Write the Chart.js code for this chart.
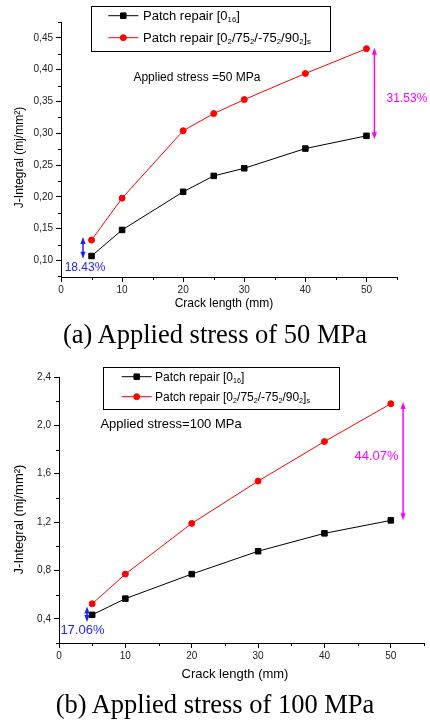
<!DOCTYPE html>
<html><head><meta charset="utf-8">
<script src="https://cdn.jsdelivr.net/npm/chart.js@4.4.1/dist/chart.umd.min.js"></script>
<style>
html,body{margin:0;padding:0;background:#fff;}
#page{position:relative;width:430px;height:724px;overflow:hidden;font-family:'Liberation Sans',Arial,sans-serif;}
canvas{position:absolute;left:0;}
.legend{position:absolute;border:1px solid #000;box-sizing:border-box;}
.lrow{position:absolute;white-space:nowrap;color:#000;}
.lrow sub{font-size:0.6em;vertical-align:-0.3em;line-height:0;}
.caption{position:absolute;left:0;width:430px;text-align:center;font-family:'Liberation Serif','Times New Roman',serif;font-size:26.5px;line-height:30px;color:#000;white-space:nowrap;}
</style>
</head><body>
<div id="page">
  <canvas id="c1" width="430" height="320" style="top:0px"></canvas>
  <canvas id="c2" width="430" height="330" style="top:360px"></canvas>
  <div class="legend" style="left:91px;top:6px;width:240px;height:46px;"></div>
  <div class="lrow" style="left:143px;top:8px;font-size:13px;line-height:16px;">Patch repair [0<sub>16</sub>]</div>
  <div class="lrow" style="left:143px;top:30px;font-size:13px;line-height:16px;">Patch repair [0<sub>2</sub>/75<sub>2</sub>/-75<sub>2</sub>/90<sub>2</sub>]<sub>s</sub></div>
  <div class="legend" style="left:103px;top:367px;width:237px;height:43px;"></div>
  <div class="lrow" style="left:155px;top:369.5px;font-size:12px;line-height:15px;">Patch repair [0<sub>16</sub>]</div>
  <div class="lrow" style="left:155px;top:389.5px;font-size:12px;line-height:15px;">Patch repair [0<sub>2</sub>/75<sub>2</sub>/-75<sub>2</sub>/90<sub>2</sub>]<sub>s</sub></div>
  <div class="caption" style="top:319px;">(a) Applied stress of 50 MPa</div>
  <div class="caption" style="top:689px;">(b) Applied stress of 100 MPa</div>
</div>
<script>
// ---------- data ----------
const crackLength50 = [5, 10, 20, 25, 30, 40, 50];
const jPatch0_50 = [0.107, 0.148, 0.208, 0.233, 0.245, 0.276, 0.296];
const jPatchQ_50 = [0.132, 0.198, 0.304, 0.331, 0.353, 0.394, 0.433];

const crackLength100 = [5, 10, 20, 30, 40, 50];
const jPatch0_100 = [0.433, 0.567, 0.770, 0.959, 1.107, 1.214];
const jPatchQ_100 = [0.524, 0.770, 1.189, 1.539, 1.866, 2.179];

const xTicks = [0, 10, 20, 30, 40, 50];
const xMinorTicks = [5, 15, 25, 35, 45, 55];
const yTicks50 = [0.10, 0.15, 0.20, 0.25, 0.30, 0.35, 0.40, 0.45];
const yTickLabels50 = ['0,10', '0,15', '0,20', '0,25', '0,30', '0,35', '0,40', '0,45'];
const yMinorTicks50 = [0.075, 0.125, 0.175, 0.225, 0.275, 0.325, 0.375, 0.425, 0.475];
const yTicks100 = [0.4, 0.8, 1.2, 1.6, 2.0, 2.4];
const yTickLabels100 = ['0,4', '0,8', '1,2', '1,6', '2,0', '2,4'];
const yMinorTicks100 = [0.2, 0.6, 1.0, 1.4, 1.8, 2.2];

const seriesNames = ['Patch repair [0_16]', 'Patch repair [0_2/75_2/-75_2/90_2]_s'];
const pctLabels50 = ['31.53%', '18.43%'];
const pctLabels100 = ['44.07%', '17.06%'];
const stressLabel50 = 'Applied stress =50 MPa';
const stressLabel100 = 'Applied stress=100 MPa';
const xTitle = 'Crack length (mm)';
const yTitle = 'J-Integral (mj/mm\u00B2)';

const FONT = "'Liberation Sans', Arial, sans-serif";
const MAGENTA = '#ff00ff';
const BLUE = '#1f1fff';

function pts(xs, ys) { return xs.map((x, i) => ({x: x, y: ys[i]})); }

function drawMarker(ctx, style, x, y, r, color) {
  ctx.fillStyle = color; ctx.strokeStyle = color; ctx.lineWidth = 1;
  ctx.beginPath();
  if (style === 'rect') { const s = r * Math.SQRT2; ctx.rect(x - s/2, y - s/2, s, s); }
  else { ctx.arc(x, y, r, 0, Math.PI * 2); }
  ctx.fill(); ctx.stroke();
}

function arrow(ctx, x, y1, y2, color) {
  ctx.strokeStyle = color; ctx.fillStyle = color; ctx.lineWidth = 1.5;
  const hl = 7, hw = 2.6;
  ctx.beginPath(); ctx.moveTo(x, y1 + hl - 1); ctx.lineTo(x, y2 - hl + 1); ctx.stroke();
  ctx.beginPath(); ctx.moveTo(x, y1); ctx.lineTo(x - hw, y1 + hl); ctx.lineTo(x + hw, y1 + hl); ctx.closePath(); ctx.fill();
  ctx.beginPath(); ctx.moveTo(x, y2); ctx.lineTo(x - hw, y2 - hl); ctx.lineTo(x + hw, y2 - hl); ctx.closePath(); ctx.fill();
}

const extras = {
  id: 'extras',
  afterDraw(chart, args, o) {
    const ctx = chart.ctx, xs = chart.scales.x, ys = chart.scales.y, b = chart.chartArea;
    ctx.save();
    // minor ticks
    ctx.strokeStyle = '#000'; ctx.lineWidth = 1;
    o.xMinor.forEach(v => { const px = Math.round(xs.getPixelForValue(v)) + 0.5;
      ctx.beginPath(); ctx.moveTo(px, b.bottom); ctx.lineTo(px, b.bottom + 3); ctx.stroke(); });
    o.yMinor.forEach(v => { const py = Math.round(ys.getPixelForValue(v)) + 0.5;
      ctx.beginPath(); ctx.moveTo(b.left, py); ctx.lineTo(b.left - 3, py); ctx.stroke(); });
    // arrows
    o.arrows.forEach(a => arrow(ctx, xs.getPixelForValue(a.x), ys.getPixelForValue(a.yTop), ys.getPixelForValue(a.yBottom), a.color));
    // annotation texts
    o.texts.forEach(t => {
      ctx.font = t.size + 'px ' + FONT; ctx.fillStyle = t.color; ctx.textAlign = t.align; ctx.textBaseline = 'middle';
      ctx.fillText(t.text, xs.getPixelForValue(t.x), ys.getPixelForValue(t.y));
    });
    // axis titles
    ctx.fillStyle = '#000'; ctx.textBaseline = 'middle'; ctx.textAlign = 'center';
    ctx.font = o.titleSize + 'px ' + FONT;
    ctx.fillText(xTitle, o.xTitlePos[0], o.xTitlePos[1]);
    ctx.save(); ctx.translate(o.yTitlePos[0], o.yTitlePos[1]); ctx.rotate(-Math.PI / 2);
    ctx.fillText(yTitle, 0, 0); ctx.restore();
    // legend samples
    const L = o.legend;
    chart.data.datasets.forEach((ds, i) => {
      const y = L.rows[i];
      ctx.strokeStyle = ds.borderColor; ctx.lineWidth = 1;
      ctx.beginPath(); ctx.moveTo(L.x0, y); ctx.lineTo(L.x1, y); ctx.stroke();
      drawMarker(ctx, ds.pointStyle, (L.x0 + L.x1) / 2, y, ds.pointRadius, ds.backgroundColor);
    });
    ctx.restore();
  }
};

function makeChart(id, cfg) {
  return new Chart(document.getElementById(id), {
    type: 'line',
    data: { datasets: [
      { label: seriesNames[0], data: pts(cfg.xs, cfg.black), borderColor: '#000', backgroundColor: '#000',
        borderWidth: 1, pointStyle: 'rect', pointRadius: 3.9, pointBorderWidth: 1, tension: 0 },
      { label: seriesNames[1], data: pts(cfg.xs, cfg.red), borderColor: '#ff0000', backgroundColor: '#ff0000',
        borderWidth: 1, pointStyle: 'circle', pointRadius: 3, pointBorderWidth: 1, tension: 0 }
    ]},
    options: {
      responsive: false, animation: false, devicePixelRatio: 1,
      layout: { padding: cfg.padding },
      plugins: { legend: { display: false }, tooltip: { enabled: false }, extras: cfg.extras },
      scales: {
        x: { type: 'linear', min: 0, max: 55,
          afterBuildTicks: s => { s.ticks = xTicks.map(v => ({value: v})); },
          afterFit: s => { s.height = cfg.xHeight; },
          grid: { drawOnChartArea: false, drawTicks: true, tickLength: 5, color: '#000', tickColor: '#000' },
          border: { display: true, color: '#000', width: 1 },
          ticks: { padding: 2, color: '#222', font: { family: FONT, size: cfg.tickSize }, maxRotation: 0,
            callback: v => String(v) } },
        y: { type: 'linear', min: cfg.yMin, max: cfg.yMax,
          afterBuildTicks: s => { s.ticks = cfg.yTicks.map(v => ({value: v})); },
          afterFit: s => { s.width = cfg.yWidth; },
          grid: { drawOnChartArea: false, drawTicks: true, tickLength: 5, color: '#000', tickColor: '#000' },
          border: { display: true, color: '#000', width: 1 },
          ticks: { padding: 3, color: '#222', font: { family: FONT, size: cfg.tickSize },
            callback: (v, i) => cfg.yLabels[i] } }
      }
    },
    plugins: [extras]
  });
}

makeChart('c1', {
  xs: crackLength50, black: jPatch0_50, red: jPatchQ_50,
  yMin: 0.074, yMax: 0.475, yTicks: yTicks50, yLabels: yTickLabels50,
  padding: { left: 0, right: 33, top: 22, bottom: 0 }, xHeight: 43, yWidth: 61, tickSize: 10,
  extras: {
    xMinor: xMinorTicks, yMinor: yMinorTicks50,
    arrows: [
      { x: 51.3, yTop: 0.4346, yBottom: 0.2908, color: MAGENTA },
      { x: 3.6, yTop: 0.1369, yBottom: 0.1028, color: BLUE }
    ],
    texts: [
      { text: pctLabels50[0], x: 53.3, y: 0.355, color: MAGENTA, align: 'left', size: 12 },
      { text: pctLabels50[1], x: 0.6, y: 0.0885, color: BLUE, align: 'left', size: 12 },
      { text: stressLabel50, x: 11.85, y: 0.3875, color: '#000', align: 'left', size: 12 }
    ],
    titleSize: 12, xTitlePos: [224, 304], yTitlePos: [19.5, 157.5],
    legend: { x0: 108.3, x1: 138.3, rows: [15.7, 37.7] }
  }
});

makeChart('c2', {
  xs: crackLength100, black: jPatch0_100, red: jPatchQ_100,
  yMin: 0.2, yMax: 2.4, yTicks: yTicks100, yLabels: yTickLabels100,
  padding: { left: 0, right: 6, top: 17, bottom: 0 }, xHeight: 47, yWidth: 59, tickSize: 10,
  extras: {
    xMinor: xMinorTicks, yMinor: yMinorTicks100,
    arrows: [
      { x: 51.85, yTop: 2.194, yBottom: 1.215, color: MAGENTA },
      { x: 4.22, yTop: 0.501, yBottom: 0.373, color: BLUE }
    ],
    texts: [
      { text: pctLabels100[0], x: 51.16, y: 1.742, color: MAGENTA, align: 'right', size: 13 },
      { text: pctLabels100[1], x: 0.21, y: 0.304, color: BLUE, align: 'left', size: 13 },
      { text: stressLabel100, x: 6.24, y: 2.011, color: '#000', align: 'left', size: 13 }
    ],
    titleSize: 13, xTitlePos: [235, 314], yTitlePos: [19.5, 159.5],
    legend: { x0: 121.7, x1: 151.7, rows: [16.7, 36.7] }
  }
});
</script>
</body></html>
